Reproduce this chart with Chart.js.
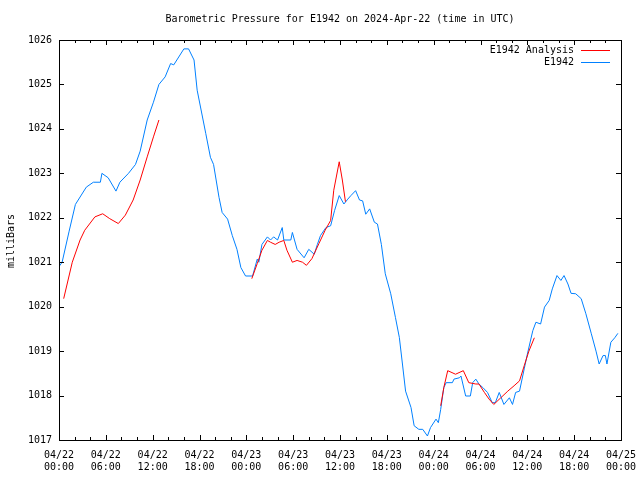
<!DOCTYPE html>
<html>
<head>
<meta charset="utf-8">
<script src="https://cdn.jsdelivr.net/npm/chart.js@4"></script>
<style>
  html, body { margin: 0; padding: 0; background: #fff; }
  #wrap { width: 640px; height: 480px; }
</style>
</head>
<body>
<div id="wrap"><canvas id="myChart" width="640" height="480"></canvas></div>
<script>
// hours since 04/22 00:00 UTC
var obsHours = [0.0, 0.4, 1.3, 2.1, 3.5, 4.4, 5.3, 5.5, 6.3, 7.3, 7.8, 8.9, 9.8, 10.4, 11.3, 12.1, 12.8, 13.6, 14.3, 14.7,
    16.0, 16.6, 17.3, 17.7, 18.8, 19.4, 19.8, 20.5, 20.9, 21.6, 22.2, 22.8, 23.3, 23.9, 24.8, 25.4, 25.6, 26.0, 26.7, 27.1,
    27.5, 28.0, 28.6, 28.8, 29.7, 29.9, 30.5, 31.4, 32.0, 32.7, 33.1, 33.5, 34.2, 34.8, 35.3, 35.9, 36.5, 37.0, 37.4, 38.0,
    38.5, 38.9, 39.3, 39.8, 40.4, 40.8, 41.3, 41.8, 42.5, 43.1, 43.6, 44.0, 44.4, 45.1, 45.5, 46.1, 46.6, 47.2, 47.6, 48.3,
    48.6, 48.9, 49.3, 49.6, 50.4, 50.6, 51.3, 51.5, 52.1, 52.7, 53.0, 53.4, 53.8, 54.3, 54.9, 55.5, 55.9, 56.4, 57.0, 57.7,
    58.1, 58.5, 59.0, 59.6, 60.0, 60.7, 61.1, 61.7, 62.2, 62.8, 63.2, 63.8, 64.3, 64.7, 65.2, 65.6, 66.2, 66.9, 67.5, 68.2,
    68.8, 69.2, 69.7, 70.0, 70.2, 70.7, 71.2, 71.6];
var obsPressure = [1020.9, 1021.0, 1021.7, 1022.3, 1022.69, 1022.8, 1022.8, 1023.0, 1022.9, 1022.6, 1022.8, 1023.0, 1023.2, 1023.5, 1024.2, 1024.6, 1025.0, 1025.17, 1025.47, 1025.44,
    1025.8, 1025.8, 1025.55, 1024.87, 1023.9, 1023.36, 1023.2, 1022.46, 1022.12, 1021.97, 1021.6, 1021.29, 1020.88, 1020.69, 1020.69, 1021.07, 1021.0, 1021.4, 1021.57, 1021.5,
    1021.57, 1021.5, 1021.78, 1021.5, 1021.5, 1021.67, 1021.29, 1021.1, 1021.29, 1021.18, 1021.4, 1021.6, 1021.78, 1021.82, 1022.16, 1022.5, 1022.31, 1022.42, 1022.5, 1022.61,
    1022.4, 1022.38, 1022.08, 1022.2, 1021.9, 1021.86, 1021.4, 1020.74, 1020.29, 1019.76, 1019.31, 1018.71, 1018.1, 1017.73, 1017.32, 1017.24, 1017.24, 1017.09, 1017.28, 1017.47,
    1017.39, 1017.69, 1018.18, 1018.29, 1018.29, 1018.37, 1018.4, 1018.44, 1017.99, 1017.99, 1018.29, 1018.37, 1018.26, 1018.18, 1018.07, 1017.84, 1017.84, 1018.07, 1017.8, 1017.95,
    1017.8, 1018.07, 1018.1, 1018.6, 1018.93, 1019.46, 1019.65, 1019.61, 1019.99, 1020.14, 1020.4, 1020.7, 1020.59, 1020.7, 1020.51, 1020.3, 1020.29, 1020.18, 1019.84, 1019.39,
    1019.0, 1018.71, 1018.9, 1018.9, 1018.71, 1019.2, 1019.3, 1019.4];

// analysis runs, null breaks the line between runs
var anaHours = [0.6, 1.7, 2.7, 3.3, 4.6, 5.6, 6.5, 7.6, 8.5, 9.5, 10.4, 11.3, 12.1, 12.8,
    18,
    24.7, 25.4, 26.0, 26.7, 27.1, 27.7, 28.2, 28.8, 29.2, 29.9, 30.5, 31.2, 31.7, 32.4, 33.3, 34.1, 34.8, 35.2, 35.9, 36.3, 36.7,
    42,
    48.9, 49.3, 49.8, 50.8, 51.8, 52.5, 53.4, 53.8, 54.5, 55.1, 55.7, 56.6, 57.5, 58.3, 59.0, 59.6, 60.2, 60.9];
var anaPressure = [1020.18, 1021.0, 1021.5, 1021.72, 1022.02, 1022.09, 1021.98, 1021.87, 1022.06, 1022.4, 1022.85, 1023.37, 1023.82, 1024.2,
    null,
    1020.63, 1020.97, 1021.27, 1021.49, 1021.45, 1021.4, 1021.45, 1021.49, 1021.27, 1021.0, 1021.04, 1021.0, 1020.93, 1021.08, 1021.42, 1021.72, 1021.94, 1022.62, 1023.26, 1022.85, 1022.36,
    null,
    1017.77, 1018.18, 1018.56, 1018.48, 1018.56, 1018.29, 1018.26, 1018.26, 1018.07, 1017.92, 1017.8, 1017.95, 1018.1, 1018.22, 1018.33, 1018.67, 1019.0, 1019.3];

var tickDates = ['04/22', '04/22', '04/22', '04/22', '04/23', '04/23', '04/23', '04/23', '04/24', '04/24', '04/24', '04/24', '04/25'];
var tickTimes = ['00:00', '06:00', '12:00', '18:00', '00:00', '06:00', '12:00', '18:00', '00:00', '06:00', '12:00', '18:00', '00:00'];

var titleText = 'Barometric Pressure for E1942 on 2024-Apr-22 (time in UTC)';
var yLabel = 'milliBars';
var monoFont = '"DejaVu Sans Mono", "Liberation Mono", monospace';

function toPoints(xs, ys) {
    return xs.map(function (x, i) { return { x: x, y: ys[i] }; });
}

// frame, inward ticks, title, axis label and gnuplot style legend
var gnuplotDeco = {
    id: 'gnuplotDeco',
    afterDraw: function (chart) {
        var c = chart.ctx, a = chart.chartArea;
        var xs = chart.scales.x, ys = chart.scales.y;
        c.save();
        c.strokeStyle = '#000';
        c.lineWidth = 1;
        c.beginPath();
        for (var h = 2; h < 72; h += 2) {
            var px = Math.round(xs.getPixelForValue(h)) + 0.5;
            var len = (h % 6 === 0) ? 5 : 3;
            c.moveTo(px, a.bottom); c.lineTo(px, a.bottom - len);
            c.moveTo(px, a.top); c.lineTo(px, a.top + len);
        }
        for (var p = 1018; p < 1026; p++) {
            var py = Math.round(ys.getPixelForValue(p)) + 0.5;
            c.moveTo(a.left, py); c.lineTo(a.left + 5, py);
            c.moveTo(a.right, py); c.lineTo(a.right - 5, py);
        }
        c.stroke();
        c.strokeRect(Math.round(a.left) + 0.5, Math.round(a.top) + 0.5, Math.round(a.right - a.left), Math.round(a.bottom - a.top));

        c.fillStyle = '#000';
        c.font = '10px ' + monoFont;
        c.textAlign = 'center';
        c.textBaseline = 'middle';
        c.fillText(titleText, (a.left + a.right) / 2, 19);

        c.save();
        c.translate(11, 241);
        c.rotate(-Math.PI / 2);
        c.fillText(yLabel, 0, 0);
        c.restore();

        c.textAlign = 'right';
        chart.data.datasets.forEach(function (ds, i) {
            var ly = 50 + i * 12;
            c.fillStyle = '#000';
            c.fillText(ds.label, 574, ly);
            c.strokeStyle = ds.borderColor;
            c.beginPath();
            c.moveTo(581, ly + 0.5); c.lineTo(610, ly + 0.5);
            c.stroke();
        });
        c.restore();
    }
};

var ctx = document.getElementById('myChart').getContext('2d');
var chart = new Chart(ctx, {
    type: 'line',
    data: {
        datasets: [{
            label: 'E1942 Analysis',
            data: toPoints(anaHours, anaPressure),
            borderColor: 'rgb(255, 0, 0)',
            borderWidth: 1,
            pointRadius: 0,
            spanGaps: false,
            tension: 0
        },
        {
            label: 'E1942',
            data: toPoints(obsHours, obsPressure),
            borderColor: 'rgb(0, 128, 255)',
            borderWidth: 1,
            pointRadius: 0,
            tension: 0
        }]
    },
    options: {
        responsive: false,
        animation: false,
        events: [],
        layout: { padding: { top: 40, right: 19, left: 0, bottom: 0 } },
        plugins: { legend: { display: false }, title: { display: false }, tooltip: { enabled: false } },
        scales: {
            x: {
                type: 'linear',
                min: 0,
                max: 72,
                grid: { display: false, drawTicks: false },
                border: { display: false },
                afterFit: function (s) { s.height = 40; s.paddingLeft = 0; s.paddingRight = 0; },
                ticks: {
                    stepSize: 6,
                    autoSkip: false,
                    maxRotation: 0,
                    padding: 9,
                    color: '#000',
                    font: { family: monoFont, size: 10, lineHeight: 1.2 },
                    callback: function (v) { var i = Math.round(v / 6); return [tickDates[i], tickTimes[i]]; }
                }
            },
            y: {
                min: 1017,
                max: 1026,
                grid: { display: false, drawTicks: false },
                border: { display: false },
                afterFit: function (s) { s.width = 59; s.paddingTop = 0; s.paddingBottom = 0; },
                ticks: {
                    stepSize: 1,
                    padding: 7,
                    color: '#000',
                    font: { family: monoFont, size: 10 },
                    callback: function (v) { return String(v); }
                }
            }
        }
    },
    plugins: [gnuplotDeco]
});
</script>
</body>
</html>
